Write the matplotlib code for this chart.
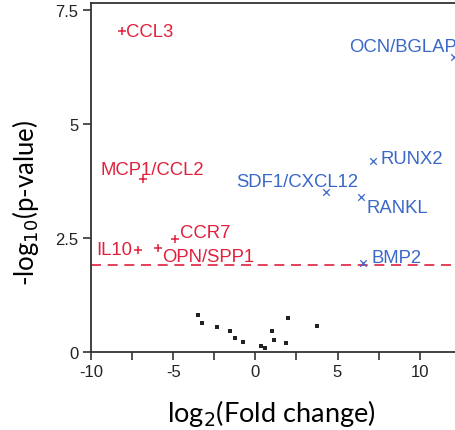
import matplotlib
matplotlib.use("Agg")
import matplotlib.pyplot as plt

# Down-regulated (red, '+')
down_genes = ["CCL3", "MCP1/CCL2", "CCR7", "IL10", "OPN/SPP1"]
down_x = [-8.09, -6.85, -4.86, -7.16, -5.90]
down_y = [7.04, 3.79, 2.47, 2.24, 2.27]

# Up-regulated (blue, 'x')
up_genes = ["OCN/BGLAP", "RUNX2", "SDF1/CXCL12", "RANKL", "BMP2"]
up_x = [12.1, 7.13, 4.33, 6.42, 6.56]
up_y = [6.47, 4.19, 3.50, 3.39, 1.94]

# Non-significant (black dots)
ns_x = [-3.50, -3.26, -2.34, -1.57, -1.22, -0.76, 0.37, 0.57, 1.04, 1.13, 1.89, 1.99, 3.76]
ns_y = [0.80, 0.63, 0.53, 0.46, 0.29, 0.22, 0.13, 0.08, 0.46, 0.25, 0.19, 0.74, 0.56]

threshold = 1.90

xticks_major = [-10, -5, 0, 5, 10]
yticks = [0, 2.5, 5, 7.5]
ytick_labels = ["0", "2.5", "5", "7.5"]

RED = "#e0203c"
BLUE = "#3a68c8"

# label offsets (pixels) and alignment
down_off = [(4, 0, "left"), (-42, 10, "left"), (5, 7, "left"), (-5, 0, "right"), (4, -8, "left")]
up_off = [(3, 11, "right"), (8, 2, "left"), (-90, 11, "left"), (6, -10, "left"), (8, 6, "left")]

W, H = 455, 431
fig = plt.figure(figsize=(W / 100, H / 100), dpi=100)
ax = fig.add_axes([91 / W, (H - 353) / H, (W - 91) / W, (353 - 4) / H])

ax.axhline(threshold, color=RED, lw=1.2, ls=(0, (6, 4)), zorder=1)

ax.scatter(ns_x, ns_y, s=7, marker="s", color="#222222", zorder=3, linewidths=0)
ax.scatter(down_x, down_y, s=40, marker="+", color=RED, linewidths=1.1, zorder=3)
ax.scatter(up_x, up_y, s=22, marker="x", color=BLUE, linewidths=0.9, zorder=3)

font = ["Liberation Sans", "DejaVu Sans"]
for g, x, y, (dx, dy, ha) in zip(down_genes, down_x, down_y, down_off):
    ax.annotate(g, (x, y), xytext=(dx, dy), textcoords="offset pixels",
                ha=ha, va="center", color=RED, fontsize=13.3, family=font)
for g, x, y, (dx, dy, ha) in zip(up_genes, up_x, up_y, up_off):
    ax.annotate(g, (x, y), xytext=(dx, dy), textcoords="offset pixels",
                ha=ha, va="center", color=BLUE, fontsize=13.3, family=font,
                annotation_clip=False)

ax.set_xlim(-10, 12.15)
ax.set_ylim(-0.01, 7.66)
ax.set_xticks(xticks_major)
ax.set_xticklabels([str(t) for t in xticks_major])
ax.set_xticks([-7.5, -2.5, 2.5, 7.5], minor=True)
ax.set_yticks(yticks)
ax.set_yticklabels(ytick_labels)

for s in ["left", "bottom", "top"]:
    ax.spines[s].set_linewidth(1.3)
    ax.spines[s].set_color("#333333")
ax.spines["right"].set_visible(False)

ax.tick_params(which="both", direction="out", length=6, width=1.2, color="#333333",
               labelsize=12, labelcolor="#222222", pad=3)
for lab in ax.get_xticklabels() + ax.get_yticklabels():
    lab.set_family(font)

lab_font = ["Lato", "DejaVu Sans"]
fig.text(271.5 / W, 1 - 414 / H, r"log$_2$(Fold change)", fontsize=19.5,
         family=lab_font, ha="center", va="center")
fig.text(26 / W, 1 - 202.5 / H, r"-log$_{10}$(p-value)", fontsize=18.5,
         family=lab_font, ha="center", va="center", rotation=90)

fig.savefig("out.png", dpi=100)
